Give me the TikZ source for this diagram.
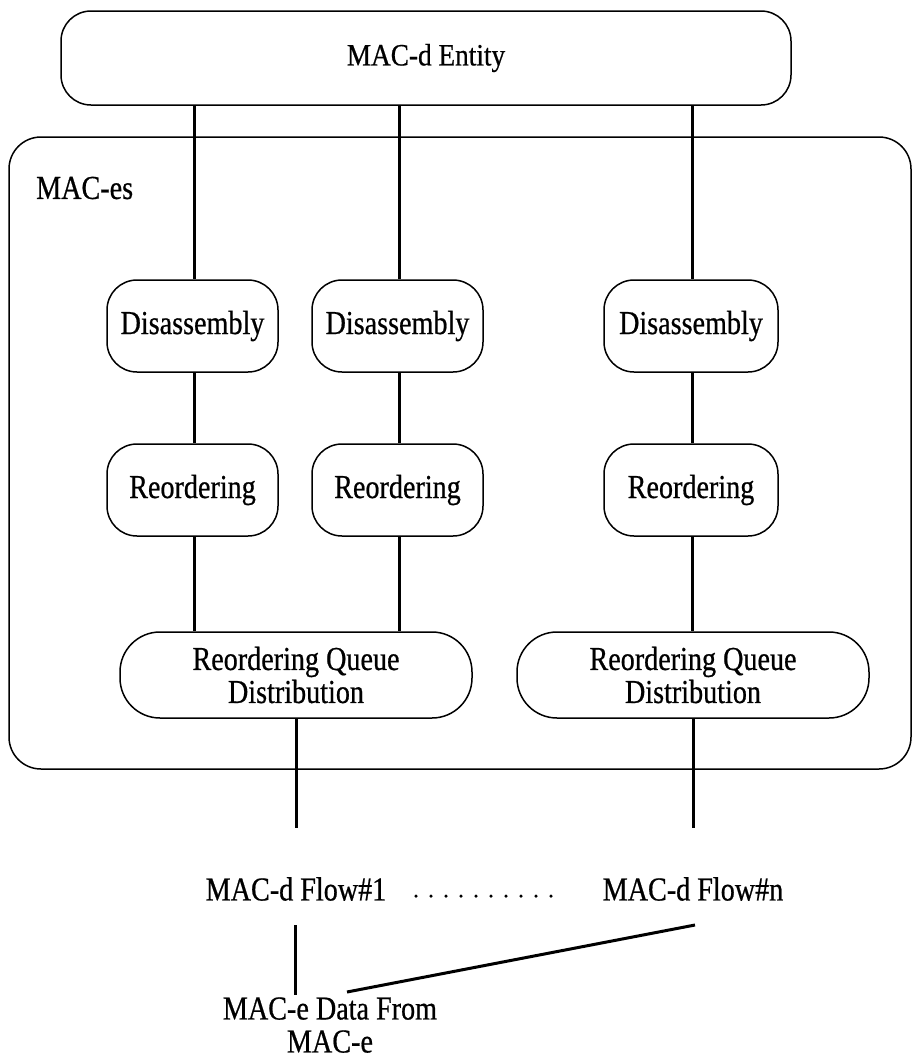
\documentclass[tikz,border=0pt]{standalone}
\usepackage{fontspec}
\setmainfont{Liberation Serif}
\newfontfamily\tall{Liberation Serif}[FakeStretch=0.84,FakeBold=0.6]
\newfontfamily\talltop{Liberation Serif}[FakeStretch=0.88,FakeBold=0.6]
\begin{document}
\begin{tikzpicture}[x=1pt,y=-1pt,
  box/.style={draw,line width=1.5pt,rounded corners=30pt,inner sep=0pt,minimum height=92pt,font=\tall\fontsize{33.5}{35}\selectfont},
  qbox/.style={draw,line width=1.5pt,rounded corners=40pt,inner sep=0pt,minimum width=352pt,minimum height=86pt,align=center,font=\tall\fontsize{33.5}{33}\selectfont},
  conn/.style={line width=3pt},
  lbl/.style={inner sep=0pt,font=\tall\fontsize{33.5}{35}\selectfont}]
\clip (0,0) rectangle (913,1061);
\fill[white] (0,0) rectangle (913,1061);
% outer MAC-es box
\node[draw,line width=1.5pt,rounded corners=32pt,minimum width=902pt,minimum height=632pt,inner sep=0pt] (es) at (460,453) {};
\node[lbl,anchor=west] (eslbl) at (36,188) {MAC-es};
% top entity
\node[draw,line width=1.5pt,rounded corners=30pt,minimum width=730pt,minimum height=94pt,inner sep=0pt,font=\talltop\fontsize{31}{33}\selectfont] (top) at (426,58) {MAC-d Entity};
% disassembly
\node[box,minimum width=171pt] (d1) at (192.5,326) {Disassembly};
\node[box,minimum width=171pt] (d2) at (397.5,326) {Disassembly};
\node[box,minimum width=174pt] (d3) at (691,326) {Disassembly};
% reordering
\node[box,minimum width=171pt] (r1) at (192.5,490) {Reordering};
\node[box,minimum width=171pt] (r2) at (397.5,490) {Reordering};
\node[box,minimum width=174pt] (r3) at (691,490) {Reordering};
% queue distribution
\node[qbox] (q1) at (296,675) {Reordering Queue\\Distribution};
\node[qbox] (q2) at (693,675) {Reordering Queue\\Distribution};
% flows
\node[lbl] (f1) at (296,889) {MAC-d Flow\#1};
\node[lbl] (fn) at (693,889) {MAC-d Flow\#n};
\node[lbl,align=center,anchor=south,font=\tall\fontsize{33.5}{33}\selectfont] (me) at (330,1053) {MAC-e Data From\\MAC-e};
% connectors
\draw[conn] (top.south -| 194,0) -- (d1.north -| 194,0);
\draw[conn] (top.south -| 399,0) -- (d2.north -| 399,0);
\draw[conn] (top.south -| 692,0) -- (d3.north -| 692,0);
\draw[conn] (d1.south -| 194,0) -- (r1.north -| 194,0);
\draw[conn] (d2.south -| 399,0) -- (r2.north -| 399,0);
\draw[conn] (d3.south -| 692,0) -- (r3.north -| 692,0);
\draw[conn] (r1.south -| 194,0) -- (q1.north -| 194,0);
\draw[conn] (r2.south -| 399,0) -- (q1.north -| 399,0);
\draw[conn] (r3.south -| 692,0) -- (q2.north -| 692,0);
\coordinate (f1in) at (296,828);
\coordinate (fnin) at (693,828);
\draw[conn] (q1.south) -- (f1in);
\draw[conn] (q2.south) -- (fnin);
\coordinate (dotsA) at (416,896);
\coordinate (dotsB) at (552,896);
\draw[line width=3.5pt,line cap=round,dash pattern=on 0pt off 15pt] (dotsA) -- (dotsB);
\coordinate (m1a) at (295,925);
\coordinate (m1b) at (295,995);
\coordinate (mna) at (695,925);
\coordinate (mnb) at (347,992);
\draw[conn] (m1a) -- (m1b);
\draw[conn] (mna) -- (mnb);
\end{tikzpicture}
\end{document}
